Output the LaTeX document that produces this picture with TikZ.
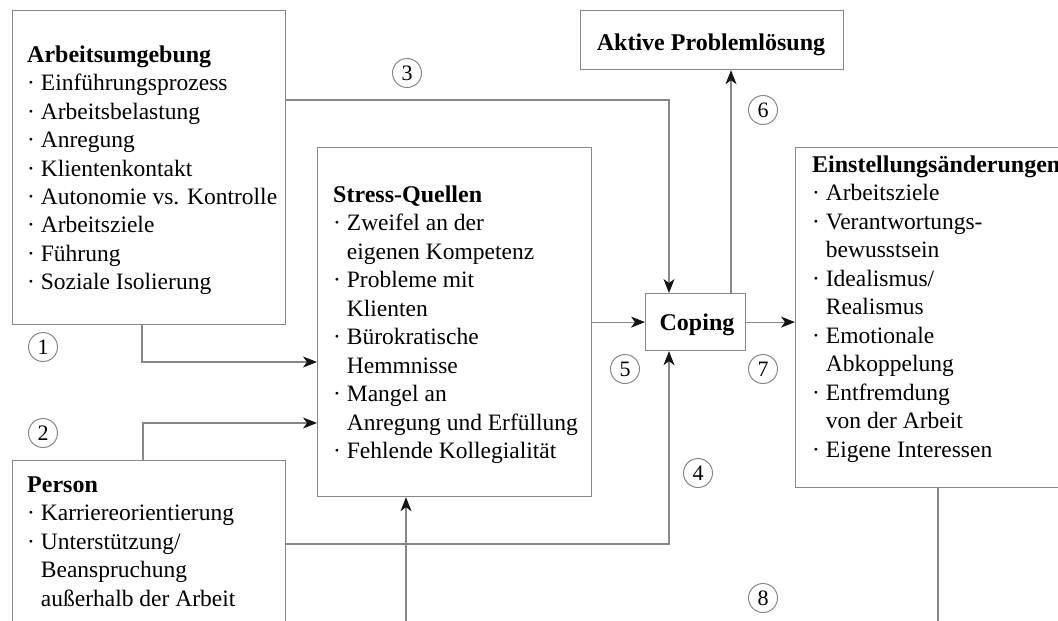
\documentclass[tikz,border=0pt]{standalone}
\usepackage{fontspec}
\setmainfont{Liberation Serif}
\usetikzlibrary{arrows.meta,calc}
\definecolor{linec}{RGB}{135,135,135}
\definecolor{tipc}{RGB}{20,20,20}
\newcommand{\bl}{\textperiodcentered\ }
\newcommand{\ct}{\phantom{\textperiodcentered\ }}
\begin{document}
\begin{tikzpicture}[x=1pt,y=-1pt,
  box/.style={draw=linec, line width=1.2pt, anchor=north west, inner sep=0pt, rectangle},
  txt/.style={anchor=base west, inner sep=0pt, font=\fontsize{23.5}{28.5}\selectfont},
  ttl/.style={anchor=base, inner sep=0pt, font=\fontsize{24}{28.5}\selectfont\bfseries},
  num/.style={circle, draw=linec, line width=1pt, minimum size=29pt, inner sep=0pt, font=\fontsize{22}{22}\selectfont},
  conn/.style={draw=linec, line width=1.2pt},
  arr/.style={conn, -{Stealth[length=14pt,width=11pt,inset=4pt,color=tipc]}}
]
\useasboundingbox (0,0) rectangle (1058,621);
\clip (0,0) rectangle (1058,621);

% boxes
\node[box, minimum width=273pt, minimum height=314pt] (arb) at (12,10) {};
\node[box, minimum width=273pt, minimum height=200pt] (per) at (12,460) {};
\node[box, minimum width=274pt, minimum height=349pt] (str) at (317,147) {};
\node[box, minimum width=100pt, minimum height=57pt] (cop) at (645,293) {};
\node[box, minimum width=263pt, minimum height=59pt] (akt) at (580,10) {};
\node[box, minimum width=300pt, minimum height=340pt] (ein) at (795,147) {};

% texts
\node[txt] (arbt) at (27,62) {\vtop{\baselineskip=28.5pt\lineskiplimit=-20pt
  \hbox{\fontsize{24}{28.5}\selectfont\textbf{Arbeitsumgebung}}
  \hbox{\bl Einführungsprozess}
  \hbox{\bl Arbeitsbelastung}
  \hbox{\bl Anregung}
  \hbox{\bl Klientenkontakt}
  \hbox{\bl Autonomie vs. Kontrolle}
  \hbox{\bl Arbeitsziele}
  \hbox{\bl Führung}
  \hbox{\bl Soziale Isolierung}}};
\node[txt] (pert) at (27,492) {\vtop{\baselineskip=28.5pt\lineskiplimit=-20pt
  \hbox{\fontsize{24}{28.5}\selectfont\textbf{Person}}
  \hbox{\bl Karriereorientierung}
  \hbox{\bl Unterstützung/}
  \hbox{\ct Beanspruchung}
  \hbox{\ct außerhalb der Arbeit}}};
\node[txt] (strt) at (333,202) {\vtop{\baselineskip=28.5pt\lineskiplimit=-20pt
  \hbox{\fontsize{24}{28.5}\selectfont\textbf{Stress-Quellen}}
  \hbox{\bl Zweifel an der}
  \hbox{\ct eigenen Kompetenz}
  \hbox{\bl Probleme mit}
  \hbox{\ct Klienten}
  \hbox{\bl Bürokratische}
  \hbox{\ct Hemmnisse}
  \hbox{\bl Mangel an}
  \hbox{\ct Anregung und Erfüllung}
  \hbox{\bl Fehlende Kollegialität}}};
\node[txt] (eint) at (812,172) {\vtop{\baselineskip=28.5pt\lineskiplimit=-20pt
  \hbox{\fontsize{24}{28.5}\selectfont\textbf{Einstellungsänderungen}}
  \hbox{\bl Arbeitsziele}
  \hbox{\bl Verantwortungs-}
  \hbox{\ct bewusstsein}
  \hbox{\bl Idealismus/}
  \hbox{\ct Realismus}
  \hbox{\bl Emotionale}
  \hbox{\ct Abkoppelung}
  \hbox{\bl Entfremdung}
  \hbox{\ct von der Arbeit}
  \hbox{\bl Eigene Interessen}}};
\node[ttl] (aktt) at (711,50) {Aktive Problemlösung};
\node[ttl] (copt) at (697,330) {Coping};

% numbers
\node[num] (n1) at (43,347) {1};
\node[num] (n2) at (43,433) {2};
\node[num] (n3) at (407,73) {3};
\node[num] (n4) at (698,473) {4};
\node[num] (n5) at (625,369) {5};
\node[num] (n6) at (763,110) {6};
\node[num] (n7) at (763,369) {7};
\node[num] (n8) at (763,598) {8};

% helper coordinates
\coordinate (c6) at ([xshift=86pt]cop.north west);
\coordinate (bot) at (406,626);
\coordinate (e8) at ([xshift=143pt]ein.south west);

% connectors
\draw[arr] ([yshift=-90pt]arb.north east) -| ([xshift=24pt]cop.north west);
\draw[arr] ([xshift=130pt]arb.south west) |- ([yshift=-215pt]str.north west);
\draw[arr] ([xshift=131pt]per.north west) |- ([yshift=-276pt]str.north west);
\draw[arr] ([yshift=-84pt]per.north east) -| ([xshift=24pt]cop.south west);
\draw[arr] (bot) -- (bot |- str.south);
\draw[arr] (str.east |- cop.west) -- (cop.west);
\draw[arr] (c6) -- (c6 |- akt.south);
\draw[arr] (cop.east) -- (cop.east -| ein.west);
\draw[conn] (e8) -- (e8 |- bot);
\end{tikzpicture}
\end{document}
